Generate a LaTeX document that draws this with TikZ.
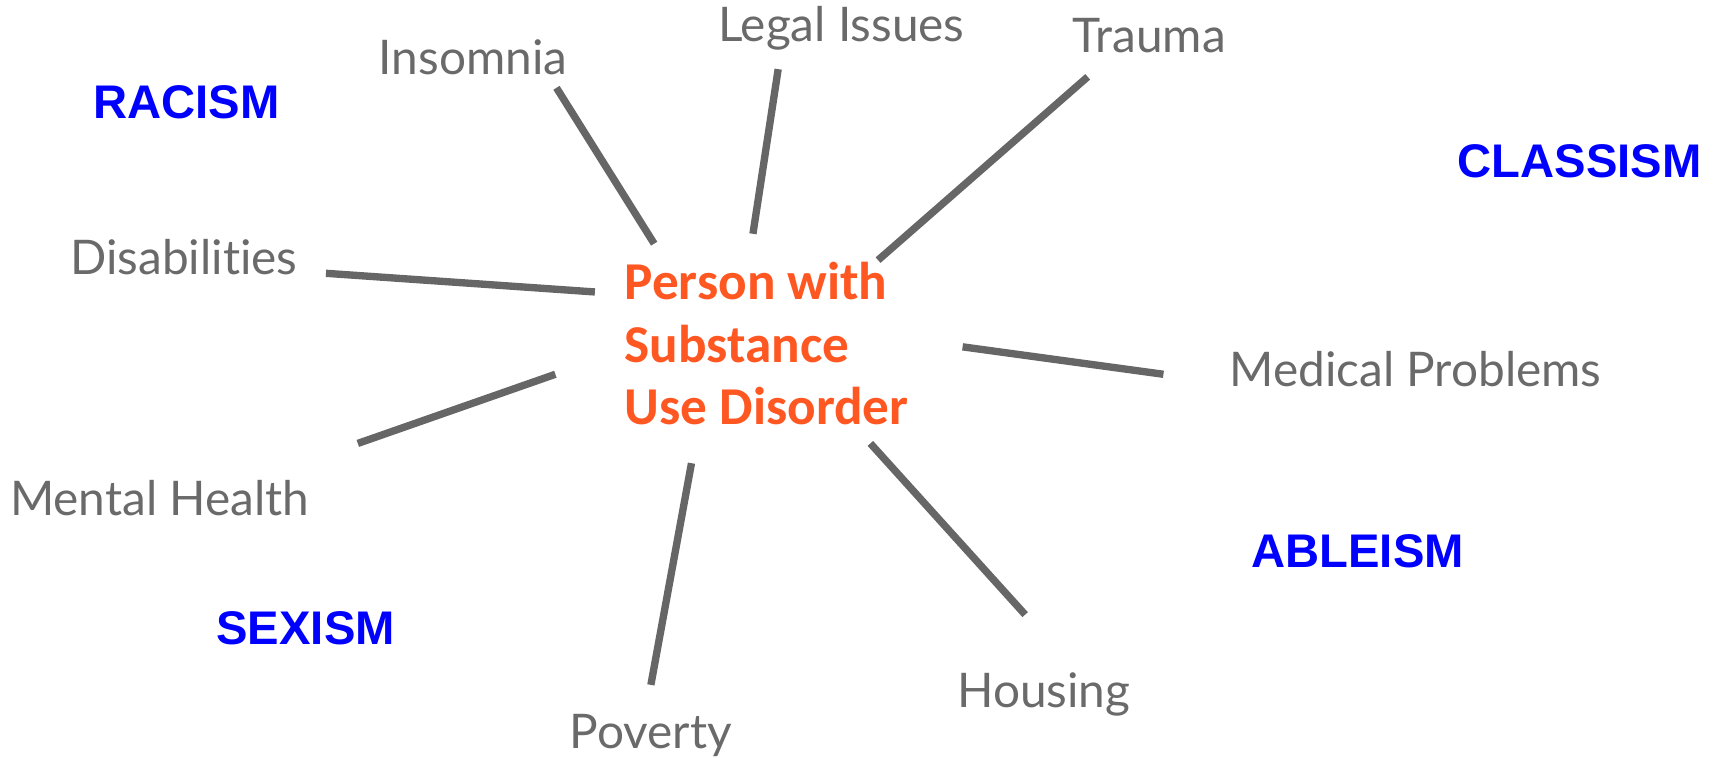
\documentclass[tikz,border=0pt]{standalone}
\usepackage{fontspec}
\setmainfont{Lato}[Ligatures={NoCommon}]
\newfontfamily\bluefont{Liberation Sans}
\newfontfamily\orangefont{Carlito}
\definecolor{linegray}{HTML}{666666}
\definecolor{txtgray}{HTML}{6A6A6A}
\definecolor{isms}{HTML}{0000FF}
\definecolor{center}{HTML}{FF5722}
\tikzset{
  factor/.style={anchor=base west, inner sep=0pt, text=txtgray, font=\fontsize{43.5}{50}\selectfont},
  ism/.style={anchor=base west, inner sep=0pt, text=isms, font=\bluefont\bfseries\fontsize{43}{50}\selectfont},
  core/.style={anchor=base west, inner sep=0pt, text=center, font=\orangefont\bfseries\fontsize{48.5}{57}\selectfont, align=left},
  spoke/.style={draw=linegray, line width=6.7pt}
}
\begin{document}
\begin{tikzpicture}[x=1pt,y=-1pt]
\useasboundingbox (0,0) rectangle (1568,690.6);
% labels
\node[factor] (insomnia) at (345,68) {Insomnia};
\node[factor] (legal) at (654,38) {Legal Issues};
\node[factor] (trauma) at (977,48) {Trauma};
\node[factor] (disab) at (64,250) {Disabilities};
\node[factor] (medical) at (1120,352) {Medical Problems};
\node[factor] (mental) at (9,470) {Mental Health};
\node[factor] (housing) at (872,645) {Housing};
\node[factor] (poverty) at (519,682) {Poverty};
\node[ism] (racism) at (85,108) {RACISM};
\node[ism] (classism) at (1328,162) {CLASSISM};
\node[ism] (ableism) at (1140,517) {ABLEISM};
\node[ism] (sexism) at (197,587) {SEXISM};
\node[core] (person) at (569,387) {Person with\\Substance\\Use Disorder};
% spoke ends
\coordinate (i1) at (507,80);   \coordinate (i2) at (596,222);
\coordinate (l1) at (709,63);   \coordinate (l2) at (686,213);
\coordinate (t1) at (991,70);   \coordinate (t2) at (800,237);
\coordinate (d1) at (297,249);  \coordinate (d2) at (542,266);
\coordinate (m1) at (877,316);  \coordinate (m2) at (1060,341);
\coordinate (h1) at (506,341);  \coordinate (h2) at (326,404);
\coordinate (p1) at (630,422);  \coordinate (p2) at (593,624);
\coordinate (o1) at (793,404);  \coordinate (o2) at (934,560);
\draw[spoke] (i1) -- (i2);
\draw[spoke] (l1) -- (l2);
\draw[spoke] (t1) -- (t2);
\draw[spoke] (d1) -- (d2);
\draw[spoke] (m1) -- (m2);
\draw[spoke] (h1) -- (h2);
\draw[spoke] (p1) -- (p2);
\draw[spoke] (o1) -- (o2);
\end{tikzpicture}
\end{document}
